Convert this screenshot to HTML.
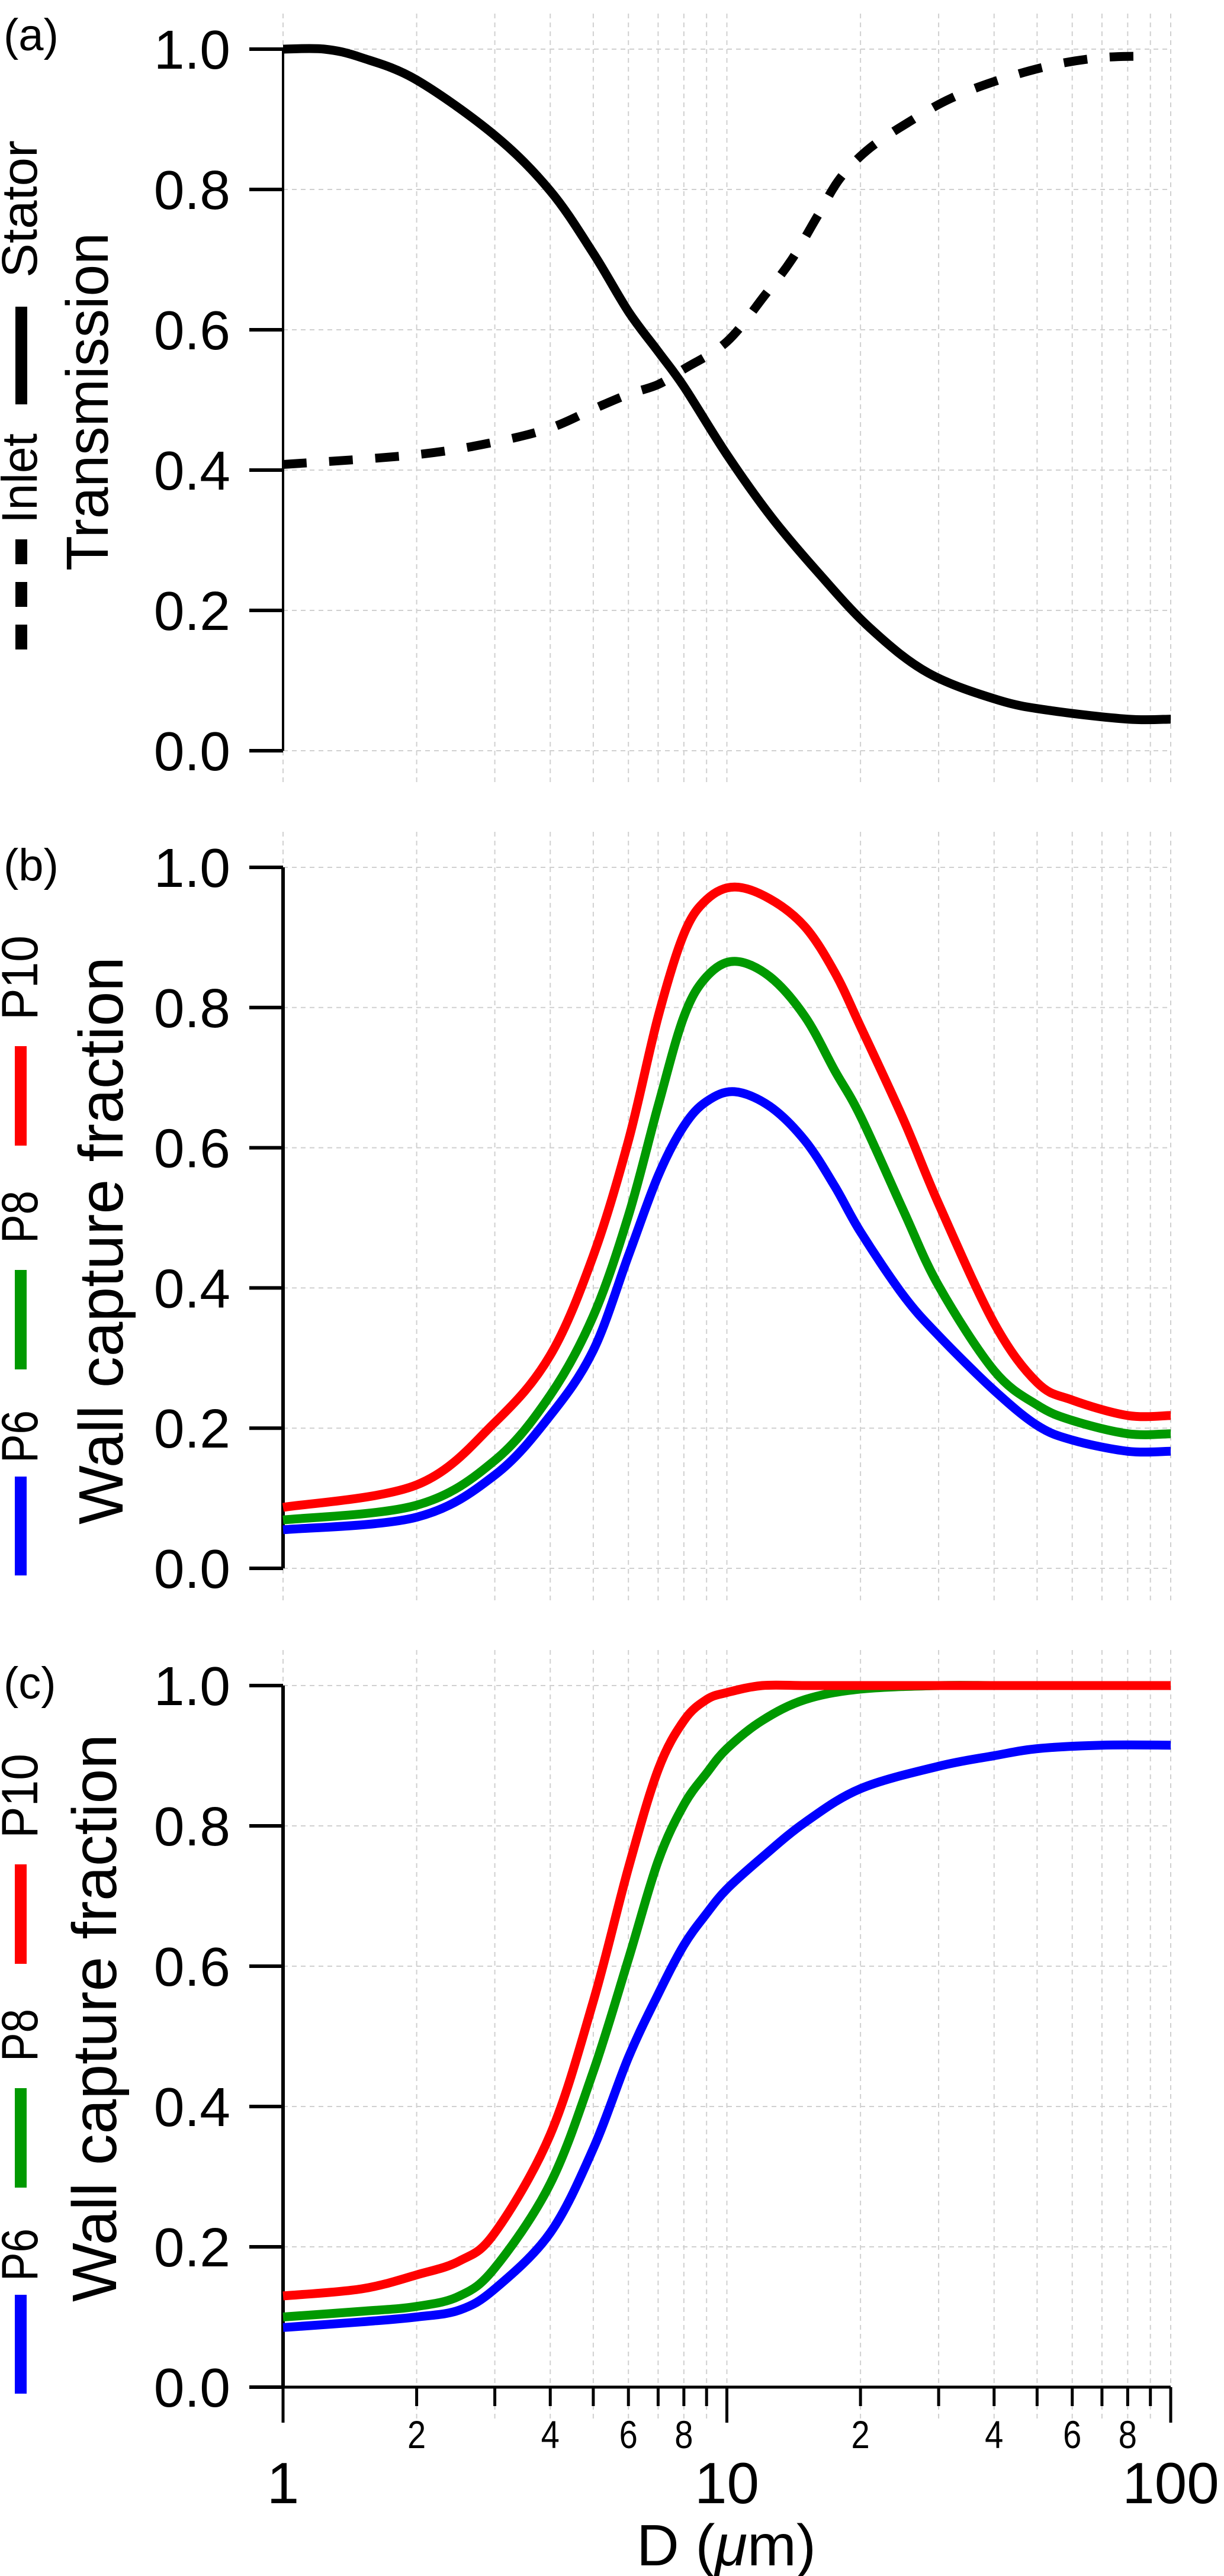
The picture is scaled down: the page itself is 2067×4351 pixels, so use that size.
<!DOCTYPE html>
<html><head><meta charset="utf-8">
<style>
html,body{margin:0;padding:0;background:#fff;}
svg{display:block;}
text{font-family:"Liberation Sans",sans-serif;fill:#000;}
</style></head>
<body>
<svg id="chart" xmlns="http://www.w3.org/2000/svg" width="2067" height="4351" viewBox="0 0 2067 4351">
<rect width="2067" height="4351" fill="#fff"/>
<g id="grid"></g>
<g id="axes"></g>
<g id="series"></g>
<g id="labels"></g>
</svg>
<script>
// ---- data ----
const aD = [1, 1.24, 1.5, 2, 3, 4, 5, 6, 7, 8, 10, 12.6, 16, 21, 28.4, 41, 54, 80, 100];
const statorT = [1.0, 1.0, 0.988, 0.956, 0.877, 0.798, 0.709, 0.626, 0.569, 0.519, 0.422, 0.333, 0.255, 0.175, 0.111, 0.072, 0.057, 0.045, 0.045];
const inletD = [1, 2, 3, 4, 5, 6, 7, 8, 10, 12.2, 14, 16, 18, 21, 26, 32, 41, 54, 70, 89];
const inletT = [0.408, 0.422, 0.44, 0.46, 0.487, 0.508, 0.522, 0.544, 0.583, 0.65, 0.70, 0.762, 0.816, 0.859, 0.898, 0.93, 0.956, 0.977, 0.988, 0.99];

const bD = [1, 2, 3, 4, 5, 6, 7, 8, 9, 10.4, 12.5, 15, 17.5, 20, 25, 30, 40, 50, 60, 80, 100];
const bP10 = [0.087, 0.119, 0.208, 0.304, 0.446, 0.61, 0.787, 0.905, 0.954, 0.972, 0.955, 0.915, 0.85, 0.773, 0.64, 0.52, 0.35, 0.265, 0.24, 0.218, 0.218];
const bP8 = [0.069, 0.09, 0.154, 0.247, 0.36, 0.503, 0.66, 0.787, 0.844, 0.866, 0.844, 0.787, 0.71, 0.645, 0.51, 0.403, 0.282, 0.233, 0.211, 0.192, 0.192];
const bP6 = [0.055, 0.073, 0.133, 0.218, 0.311, 0.446, 0.56, 0.631, 0.666, 0.68, 0.659, 0.61, 0.545, 0.48, 0.389, 0.332, 0.254, 0.204, 0.183, 0.167, 0.167];

const cD = [1, 1.5, 2, 2.5, 3, 4, 5, 6, 7, 8, 9, 10, 12, 15, 20, 30, 40, 50, 70, 100];
const cP10 = [0.13, 0.14, 0.16, 0.18, 0.22, 0.36, 0.55, 0.74, 0.88, 0.95, 0.98, 0.99, 1.0, 1.0, 1.0, 1.0, 1.0, 1.0, 1.0, 1.0];
const cP8 = [0.10, 0.108, 0.115, 0.13, 0.17, 0.29, 0.45, 0.61, 0.75, 0.83, 0.875, 0.91, 0.95, 0.98, 0.995, 1.0, 1.0, 1.0, 1.0, 1.0];
const cP6 = [0.085, 0.093, 0.10, 0.11, 0.14, 0.22, 0.34, 0.47, 0.56, 0.63, 0.675, 0.71, 0.755, 0.805, 0.853, 0.885, 0.90, 0.91, 0.915, 0.915];

const yTicks = [0, 0.2, 0.4, 0.6, 0.8, 1.0];
const yTickLabels = ["0.0", "0.2", "0.4", "0.6", "0.8", "1.0"];
const xMajor = [1, 10, 100];
const xMajorLabels = ["1", "10", "100"];
const xMinor = [2, 3, 4, 5, 6, 7, 8, 9, 20, 30, 40, 50, 60, 70, 80, 90];
const xMinorLabeled = [2, 4, 6, 8, 20, 40, 60, 80];
const xMinorLabels = ["2", "4", "6", "8", "2", "4", "6", "8"];

// ---- layout ----
const NS = "http://www.w3.org/2000/svg";
const X0 = 478, X1 = 1977;
const panels = [{top: 83, bot: 1268}, {top: 1465, bot: 2649}, {top: 2847, bot: 4032}];
function xs(d) { return X0 + (Math.log10(d) / 2) * (X1 - X0); }
function ys(p, v) { return p.bot - v * (p.bot - p.top); }
function mk(tag, attrs, parent) {
  const e = document.createElementNS(NS, tag);
  for (const k in attrs) e.setAttribute(k, attrs[k]);
  parent.appendChild(e);
  return e;
}
const gGrid = document.getElementById('grid');
const gAxes = document.getElementById('axes');
const gSer = document.getElementById('series');
const gLab = document.getElementById('labels');

function pathFrom(p, ds, vs) {
  const pts = ds.map((d, i) => [xs(d), ys(p, vs[i])]);
  let s = "M" + pts[0][0].toFixed(1) + "," + pts[0][1].toFixed(1);
  for (let i = 0; i < pts.length - 1; i++) {
    const p0 = pts[Math.max(0, i - 1)], p1 = pts[i], p2 = pts[i + 1], p3 = pts[Math.min(pts.length - 1, i + 2)];
    const c1 = [p1[0] + (p2[0] - p0[0]) / 6, p1[1] + (p2[1] - p0[1]) / 6];
    const c2 = [p2[0] - (p3[0] - p1[0]) / 6, p2[1] - (p3[1] - p1[1]) / 6];
    s += " C" + c1[0].toFixed(1) + "," + c1[1].toFixed(1) + " " + c2[0].toFixed(1) + "," + c2[1].toFixed(1) + " " + p2[0].toFixed(1) + "," + p2[1].toFixed(1);
  }
  return s;
}

panels.forEach((p, pi) => {
  xMajor.concat(xMinor).forEach(d => {
    const l = mk('line', {x1: xs(d), x2: xs(d), y1: p.top - 60, y2: p.bot + 60, stroke: '#d0d0d0', 'stroke-width': 2, 'stroke-dasharray': '8 7'}, gGrid);
    
    
  });
  yTicks.forEach(v => {
    const l = mk('line', {x1: X0, x2: X1, y1: ys(p, v), y2: ys(p, v), stroke: '#d0d0d0', 'stroke-width': 2, 'stroke-dasharray': '8 7'}, gGrid);
    
    
  });
  const ax = mk('line', {x1: X0, x2: X0, y1: p.top, y2: p.bot, stroke: '#000', 'stroke-width': pi === 0 ? 4 : 6}, gAxes);
  
  
  yTicks.forEach((v, i) => {
    const t = mk('line', {x1: 421, x2: X0, y1: ys(p, v), y2: ys(p, v), stroke: '#000', 'stroke-width': 6}, gAxes);
    
    
    const tx = mk('text', {x: 389, y: ys(p, v) + 33, 'text-anchor': 'end', 'font-size': 93}, gLab);
    tx.textContent = yTickLabels[i];
    
    
  });
});

const pc = panels[2];
const xl = mk('line', {x1: X0, x2: X1, y1: pc.bot, y2: pc.bot, stroke: '#000', 'stroke-width': 5}, gAxes);


xMajor.forEach((d, i) => {
  const t = mk('line', {x1: xs(d), x2: xs(d), y1: pc.bot, y2: 4092, stroke: '#000', 'stroke-width': 5}, gAxes);
  
  
  const tx = mk('text', {x: xs(d), y: 4228, 'text-anchor': 'middle', 'font-size': 98}, gLab);
  tx.textContent = xMajorLabels[i];
  
  
});
xMinor.forEach(d => {
  const t = mk('line', {x1: xs(d), x2: xs(d), y1: pc.bot, y2: 4064, stroke: '#000', 'stroke-width': 5}, gAxes);
  
  
});
xMinorLabeled.forEach((d, i) => {
  const tx = mk('text', {x: xs(d), y: 4135, 'text-anchor': 'middle', 'font-size': 66, transform: 'translate(' + xs(d) + ',0) scale(0.85,1) translate(' + (-xs(d)) + ',0)'}, gLab);
  tx.textContent = xMinorLabels[i];
  
  
});

function addSeries(p, ds, vs, color, name, dash) {
  const attrs = {d: pathFrom(p, ds, vs), fill: 'none', stroke: color, 'stroke-width': 15, 'stroke-linejoin': 'round'};
  if (dash) attrs['stroke-dasharray'] = dash;
  const e = mk('path', attrs, gSer);
  
  
}
addSeries(panels[0], aD, statorT, '#000', 'stator-line', null);
addSeries(panels[0], inletD, inletT, '#000', 'inlet-line', '40 38');
addSeries(panels[1], bD, bP6, '#0000ff', 'p6-line-b', null);
addSeries(panels[1], bD, bP8, '#009900', 'p8-line-b', null);
addSeries(panels[1], bD, bP10, '#ff0000', 'p10-line-b', null);
addSeries(panels[2], cD, cP6, '#0000ff', 'p6-line-c', null);
addSeries(panels[2], cD, cP8, '#009900', 'p8-line-c', null);
addSeries(panels[2], cD, cP10, '#ff0000', 'p10-line-c', null);

function vtext(str, xBase, yTop, yBot, size, name) {
  const cy = (yTop + yBot) / 2;
  const t = mk('text', {x: 0, y: 0, 'text-anchor': 'middle', 'font-size': size, textLength: (yBot - yTop), lengthAdjust: 'spacingAndGlyphs', transform: 'translate(' + xBase + ',' + cy + ') rotate(-90)'}, gLab);
  t.textContent = str;
  
  
}
function vline(x, y1, y2, color, name, dash) {
  const a = {x1: x, x2: x, y1: y1, y2: y2, stroke: color, 'stroke-width': 20};
  if (dash) a['stroke-dasharray'] = dash;
  const l = mk('line', a, gLab);
  
  
}
function plabel(str, x, y, name) {
  const t = mk('text', {x: x, y: y, 'font-size': 76}, gLab);
  t.textContent = str;
  
  
}

plabel('(a)', 6, 85, 'panel-label-a');
vtext('Stator', 62, 83 + 154, 83 + 386, 84, 'legend-stator-label');
vline(36, 83 + 435, 83 + 600, '#000', 'legend-stator-line');
vtext('Inlet', 62, 83 + 649, 83 + 801, 84, 'legend-inlet-label');
vline(36, 83 + 828, 83 + 1015, '#000', 'legend-inlet-line', '42 30');
vtext('Transmission', 182, 83 + 310, 83 + 881, 100, 'y-axis-title-a');

[[panels[1], 'b', 151, 1110, 207], [panels[2], 'c', 82, 1041, 196]].forEach(([p, k, t1, t2, tx]) => {
  plabel('(' + k + ')', 6, p.top + 22, 'panel-label-' + k);
  vtext('P10', 63, p.top + 115, p.top + 258, 86, 'legend-p10-label');
  vline(35, p.top + 302, p.top + 470, '#ff0000', 'legend-p10-line');
  vtext('P8', 63, p.top + 546, p.top + 635, 86, 'legend-p8-label');
  vline(35, p.top + 680, p.top + 848, '#009900', 'legend-p8-line');
  vtext('P6', 63, p.top + 917, p.top + 1006, 86, 'legend-p6-label');
  vline(35, p.top + 1029, p.top + 1196, '#0000ff', 'legend-p6-line');
  vtext('Wall capture fraction', tx, p.top + t1, p.top + t2, 106, 'y-axis-title-' + k);
});

const xt = mk('text', {x: 1075, y: 4333, 'font-size': 98, textLength: 303, lengthAdjust: 'spacingAndGlyphs'}, gLab);


xt.innerHTML = 'D (<tspan font-style="italic">μ</tspan>m)';
</script>
</body></html>
